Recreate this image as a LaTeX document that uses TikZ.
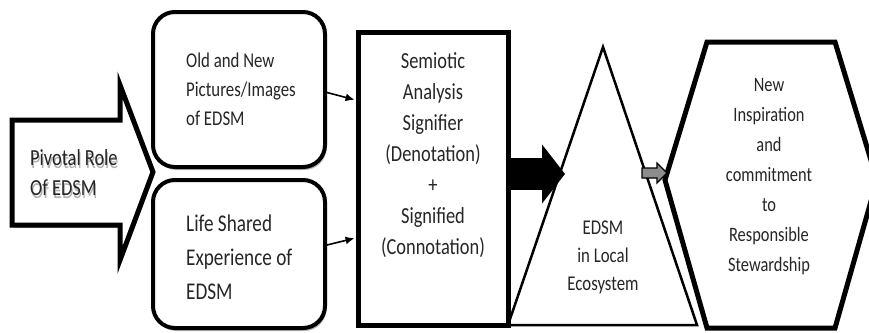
\documentclass[tikz,border=0pt]{standalone}
\usepackage{fontspec}
\setmainfont[FakeStretch=0.8]{Carlito}
\usetikzlibrary{arrows.meta,shadows}

\begin{document}
\begin{tikzpicture}[x=1pt,y=-1pt,
    softshadow/.style={drop shadow={shadow xshift=1.5pt, shadow yshift=-3pt, fill=black!35, opacity=0.8}},
    box/.style={draw, line width=4pt, rounded corners=22pt, fill=white, inner sep=0pt, softshadow},
    frame/.style={draw, line width=5pt, fill=white, inner sep=0pt},
    txt/.style={align=center, inner sep=0pt, text=black!85},
    link/.style={-{Latex[length=9pt,width=8pt]}, line width=1.6pt, shorten >=1pt},
    bigarrow/.style={line width=32pt, -{Triangle[length=23pt,width=58pt]}},
    smallarrow/.style={draw, line width=1.2pt, fill=black!45}]
    \clip (0,0) rectangle (869,332);

    % Pivotal role arrow
    \draw[line width=5pt, fill=white, softshadow]
        (12,120) -- (120,120) -- (120,85) -- (153,172) -- (120,260) -- (120,225) -- (12,225) -- cycle;
    \node[txt, align=left, anchor=west, text=black!30, font=\fontsize{23}{30}\selectfont] (pivotshadow) at (31,176) {Pivotal Role\\Of EDSM};
    \node[txt, align=left, anchor=west, font=\fontsize{23}{30}\selectfont] (pivot) at (30,173) {Pivotal Role\\Of EDSM};

    % Two source boxes
    \node[box, minimum width=172pt, minimum height=155pt] (old) at (239,89.5) {};
    \node[txt, align=left, anchor=west, font=\fontsize{21}{29}\selectfont] (oldtext) at (186,89) {Old and New\\Pictures/Images\\of EDSM};
    \node[box, minimum width=172pt, minimum height=148pt] (life) at (239,254) {};
    \node[txt, align=left, anchor=west, font=\fontsize{24}{34}\selectfont] (lifetext) at (186,257) {Life Shared\\Experience of\\EDSM};

    % Semiotic analysis
    \node[frame, minimum width=150pt, minimum height=293pt] (sem) at (433,178.5) {};
    \node[txt, font=\fontsize{23}{31}\selectfont] (semtext) at (433,155) {Semiotic\\Analysis\\Signifier\\(Denotation)\\+\\Signified\\(Connotation)};
    \draw[link] ([yshift=-3pt]old.east) -- (sem.west |- 0,100);
    \draw[link] ([yshift=9pt]life.east) -- (sem.west |- 0,238);

    % Local ecosystem
    \coordinate (apex) at (603,47);
    \coordinate (baseleft) at (508,325);
    \coordinate (baseright) at (697,325);
    \coordinate (bigtip) at (565,174);
    \draw[bigarrow] (sem.east |- bigtip) -- (bigtip);
    \draw[line width=2.5pt] (baseleft) -- (apex) -- (baseright) -- cycle;
    \node[txt, font=\fontsize{21}{28}\selectfont] (eco) at (603,257) {EDSM\\in Local\\Ecosystem};

    % Stewardship
    \draw[line width=5pt, fill=white] (665,180) -- (707,42) -- (835,42) -- (877,180) -- (835,328) -- (707,328) -- cycle;
    \coordinate (hexleft) at (667,173);
    \draw[smallarrow] (642,168) -- (657,168) -- (657,163) -- (hexleft) -- (657,183) -- (657,178) -- (642,178) -- cycle;
    \node[txt, font=\fontsize{20.5}{30}\selectfont] (steward) at (769,177) {New\\Inspiration\\and\\commitment\\to\\Responsible\\Stewardship};
\end{tikzpicture}
\end{document}
